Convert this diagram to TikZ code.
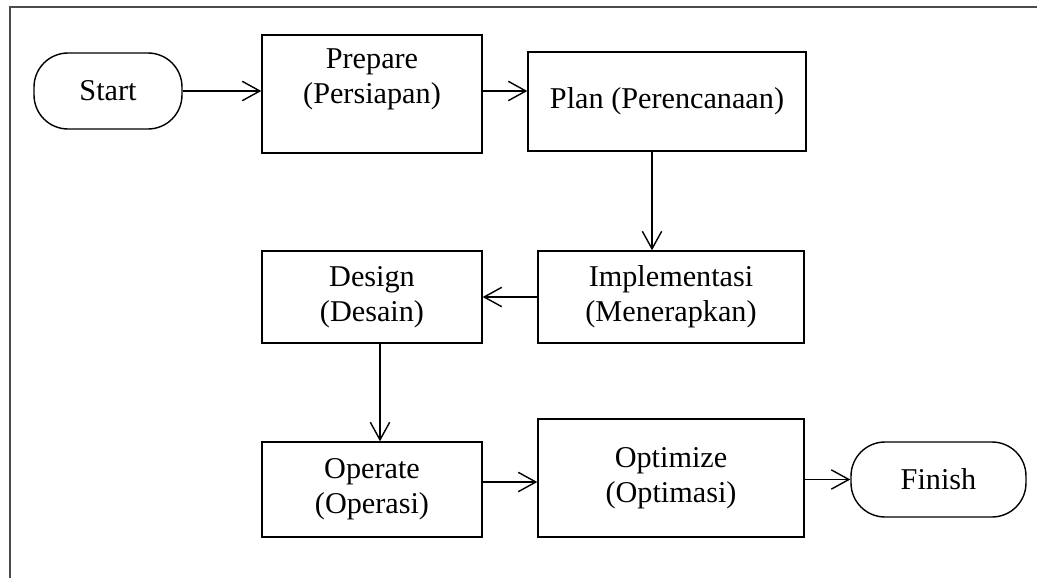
\documentclass[tikz,border=0pt]{standalone}
\usepackage{fontspec}
\setmainfont{Liberation Serif}
\usetikzlibrary{arrows.meta}

\begin{document}
\begin{tikzpicture}[x=0.02cm,y=-0.02cm,
	box/.style={draw,line width=0.8pt,align=center,font=\fontsize{17.2}{20}\selectfont,inner sep=0pt},
	term/.style={box,rounded corners=0.68cm},
	flow/.style={line width=0.8pt,-{Straight Barb[length=10pt,width=11pt,line width=0.8pt]}}]
	\useasboundingbox (0,0) rectangle (1037,578);
	\draw[line width=1.3pt,black!70] (10,578) -- (10,7) -- (1037,7);
	\node[term] (start) at (108,91) [minimum width=2.96cm,minimum height=1.52cm] {Start};
	\node[box] (prepare) at (372,94) [minimum width=4.4cm,minimum height=2.36cm] {Prepare\\(Persiapan)\\ };
	\node[box] (plan) at (667,101.5) [minimum width=5.56cm,minimum height=1.98cm] {Plan (Perencanaan)};
	\node[box] (impl) at (671,297) [minimum width=5.32cm,minimum height=1.84cm] {Implementasi\\(Menerapkan)};
	\node[box] (design) at (372,297) [minimum width=4.4cm,minimum height=1.84cm] {Design\\(Desain)};
	\node[box] (operate) at (372,489.5) [minimum width=4.4cm,minimum height=1.9cm] {Operate\\(Operasi)};
	\node[box] (optimize) at (671,478) [minimum width=5.32cm,minimum height=2.36cm] {Optimize\\(Optimasi)};
	\node[term] (finish) at (938.5,479.5) [minimum width=3.5cm,minimum height=1.5cm] {Finish};
	\draw[flow] (start.east) -- (start.east -| prepare.west);
	\draw[flow] (prepare.east |- start.east) -- (start.east -| plan.west);
	\draw[flow] ([xshift=-0.3cm]plan.south) -- ([xshift=-0.3cm]plan.south |- impl.north);
	\path (impl) edge[flow] (design);
	\draw[flow] ([xshift=0.16cm]design.south) -- ([xshift=0.16cm]design.south |- operate.north);
	\draw[flow] ([yshift=0.15cm]operate.east) -- ([yshift=0.15cm]operate.east -| optimize.west);
	\draw[flow] (finish.west -| optimize.east) -- (finish.west);
\end{tikzpicture}
\end{document}
